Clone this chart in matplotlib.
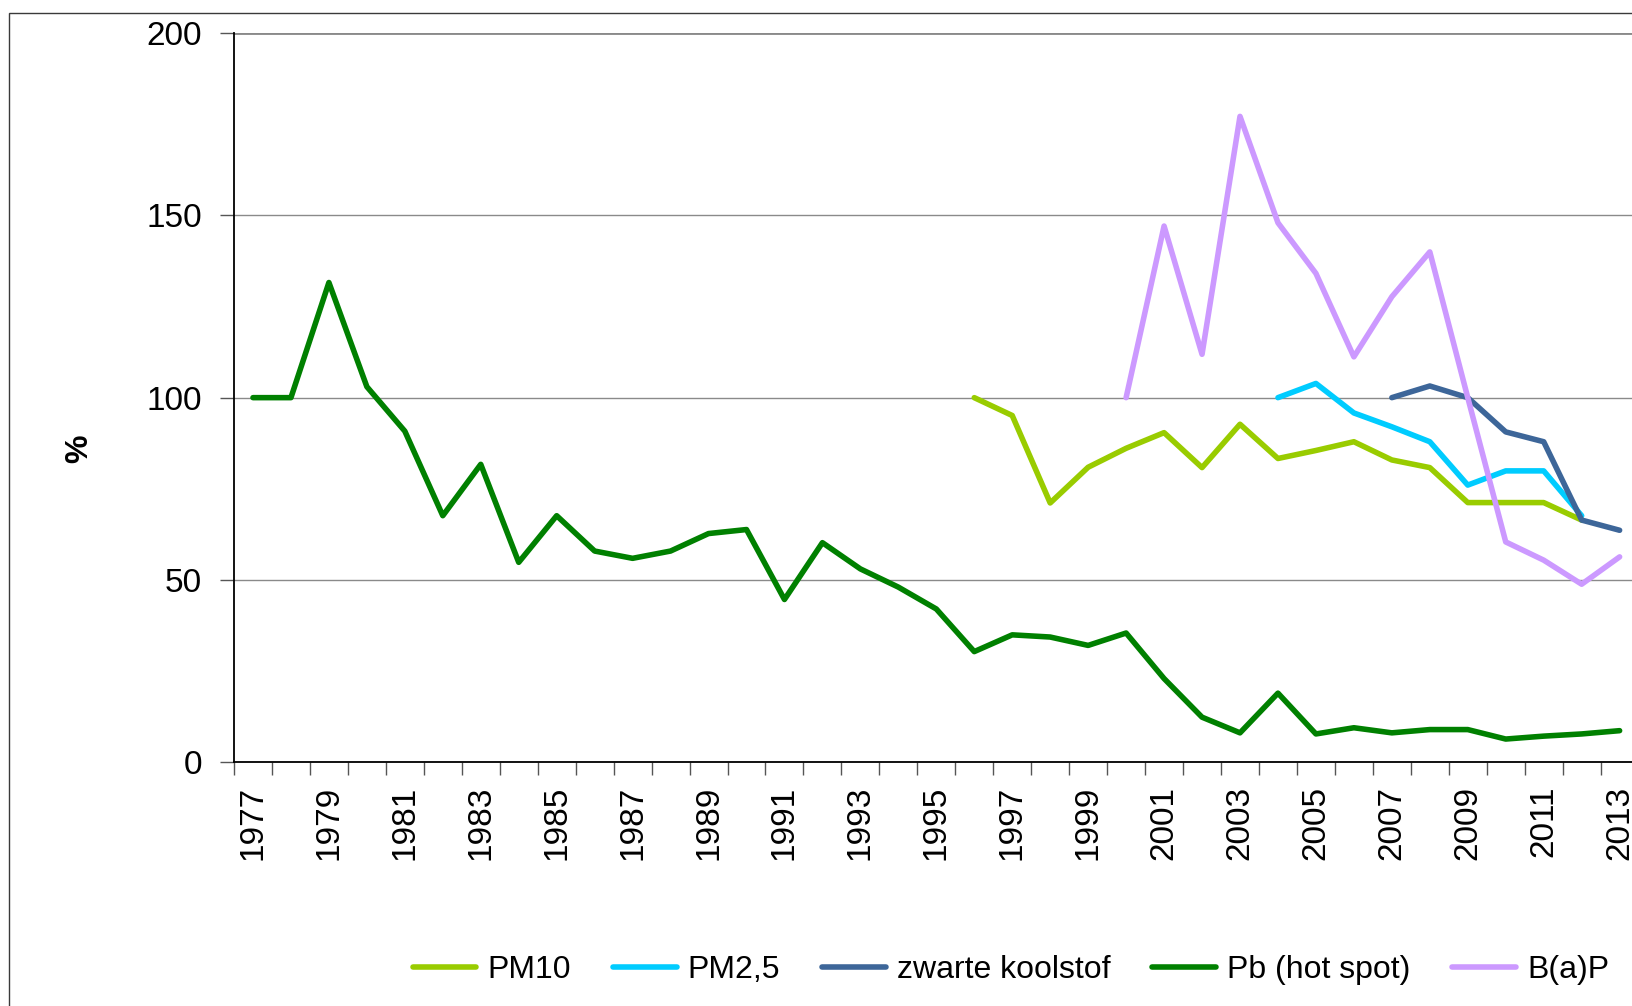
import numpy as np
import matplotlib.pyplot as plt
from matplotlib.patches import Rectangle

plt.rcParams['font.family'] = ['Liberation Sans', 'DejaVu Sans']

# --- data (index 1977 = 100) ---
years = list(range(1977, 2014))

pb_hotspot = [100, 100, 131.6, 103.0, 90.8, 67.6, 81.7, 54.8, 67.6, 57.9,
              55.9, 57.9, 62.7, 63.8, 44.6, 60.2, 53.0, 48.0, 42.0, 30.3,
              34.9, 34.3, 32.0, 35.4, 22.9, 12.3, 8.0, 18.9, 7.7, 9.4,
              8.0, 8.9, 8.9, 6.3, 7.1, 7.7, 8.6]

pm10_years = list(range(1996, 2013))
pm10 = [100, 95.1, 71.1, 80.9, 86.1, 90.4, 80.8, 92.7, 83.3, 85.5,
        87.9, 82.9, 80.8, 71.2, 71.2, 71.2, 66.4]

pm25_years = list(range(2004, 2013))
pm25 = [100, 103.9, 95.8, 92.0, 87.9, 76.0, 79.9, 79.9, 67.6]

bc_years = list(range(2007, 2014))
zwarte_koolstof = [100, 103.2, 100.0, 90.6, 87.9, 66.4, 63.6]

bap_years = list(range(2000, 2014))
bap = [100, 147.1, 111.9, 177.2, 148.0, 134.1, 111.2, 127.7, 140.0, 100.0,
       60.4, 55.4, 48.8, 56.3]

series = [
    ('PM10', pm10_years, pm10, '#99CC00'),
    ('PM2,5', pm25_years, pm25, '#00CCFF'),
    ('zwarte koolstof', bc_years, zwarte_koolstof, '#3D6699'),
    ('Pb (hot spot)', years, pb_hotspot, '#008000'),
    ('B(a)P', bap_years, bap, '#CC99FF'),
]

W, H = 1633, 1006
fig = plt.figure(figsize=(W / 100, H / 100), dpi=100)

# plot area (Excel chart is cropped on the right)
x0, x1 = 234, 1638.6
y_top, y_bot = 33.3, 762
ax = fig.add_axes([x0 / W, 1 - y_bot / H, (x1 - x0) / W, (y_bot - y_top) / H])

# outer chart border (only left and top are inside the picture)
fig.patches.append(Rectangle((9.5 / W, -0.2), 1.2, 1 - 12.5 / H + 0.2,
                             transform=fig.transFigure, fill=False,
                             edgecolor='#3a3a3a', linewidth=1.0))

for name, xs, ys, col in series:
    pos = [years.index(y) for y in xs]
    ax.plot(pos, ys, color=col, linewidth=4.0, label=name,
            solid_capstyle='round', solid_joinstyle='round')

ax.set_xlim(-0.5, len(years) - 0.5)
ax.set_ylim(0, 200)
ax.set_yticks([0, 50, 100, 150, 200])
ax.yaxis.grid(True, color='#8a8a8a', linewidth=1.0)
ax.axhline(200, color='#8a8a8a', linewidth=2.0, zorder=0.5)
ax.set_axisbelow(True)

ax.set_xticks(range(0, len(years), 2))
ax.set_xticklabels([str(y) for y in years[::2]], rotation=90)
ax.set_xticks(np.arange(-0.5, len(years), 1.0), minor=True)
ax.tick_params(axis='x', which='major', length=0, pad=17, labelsize=24)
ax.tick_params(axis='x', which='minor', length=9, width=1.0, color='#555555')
ax.tick_params(axis='y', length=10, width=1.0, color='#555555', pad=13,
               labelsize=24)

for s in ['top', 'right']:
    ax.spines[s].set_visible(False)
ax.spines['left'].set_linewidth(1.3)
ax.spines['bottom'].set_linewidth(1.3)

fig.text(79 / W, 1 - 449 / H, '%', rotation=90, fontsize=23,
         fontweight='bold', ha='center', va='center')

fig.legend(loc='center', bbox_to_anchor=(0.619, 0.036), ncol=5,
           frameon=False, fontsize=23, handlelength=2.0, handletextpad=0.35,
           columnspacing=1.3)

fig.savefig('out.png', dpi=100)
